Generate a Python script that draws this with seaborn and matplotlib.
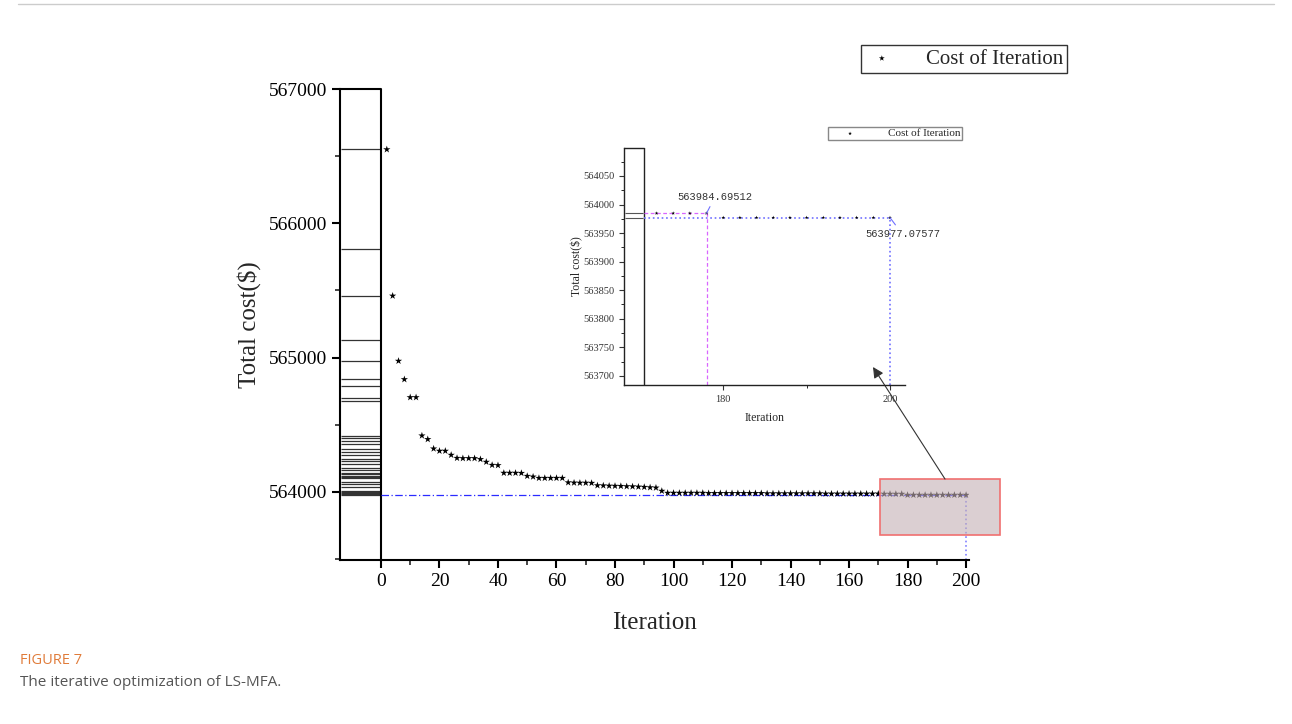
import numpy as np
import matplotlib
matplotlib.use('Agg')
import matplotlib.pyplot as plt
import seaborn as sns
from matplotlib.patches import Rectangle
from matplotlib.lines import Line2D
from matplotlib.ticker import MultipleLocator, FixedLocator

# Data
iterations = np.arange(2, 202, 2)
cost = [
    566550, 565460, 564975, 564838, 564704, 564704, 564419, 564392, 564322, 564305,   # 2-20
    564305, 564275, 564252, 564250, 564250, 564250, 564243, 564223, 564200, 564198,   # 22-40
    564141, 564141, 564141, 564140, 564118, 564113, 564103, 564103, 564103, 564103,   # 42-60
    564103, 564070, 564068, 564067, 564067, 564066, 564048, 564047, 564045, 564044,   # 62-80
    564043, 564041, 564040, 564038, 564036, 564033, 564031, 564007, 563992, 563992,   # 82-100
    563992, 563992, 563992, 563992, 563992, 563990, 563990, 563990, 563990, 563990,   # 102-120
    563990, 563990, 563990, 563990, 563990, 563988, 563988, 563988, 563988, 563988,   # 122-140
    563988, 563988, 563988, 563988, 563988, 563986, 563986, 563986, 563986, 563986,   # 142-160
    563986, 563986, 563986, 563986, 563986, 563984.69512, 563984.69512, 563984.69512,
    563984.69512, 563977.07577,                                                       # 162-180
    563977.07577, 563977.07577, 563977.07577, 563977.07577, 563977.07577,
    563977.07577, 563977.07577, 563977.07577, 563977.07577, 563977.07577,             # 182-200
]
# horizontal lines in the box left of x=0
rug_cost = [566550, 565810, 565460, 565129, 564975, 564838, 564791, 564701, 564679,
            564416, 564399, 564377, 564354, 564317, 564297, 564275, 564247, 564228,
            564206, 564180, 564161, 564139, 564130, 564121, 564112, 564104, 564074,
            564057, 564034, 564007, 563998, 563990, 563984.69512, 563977.07577]
best_mid = 563984.69512
best_final = 563977.07577
iter_mid = 178
iter_final = 200

sns.set_style('ticks')
plt.rcParams['font.family'] = ['Liberation Serif', 'DejaVu Serif']

W, H = 1292, 724
fig = plt.figure(figsize=(W / 100, H / 100), dpi=100)

# ---- main axes
ax = fig.add_axes([340 / W, 1 - 560 / H, (969 - 340) / W, (560 - 89) / H])
ymin, ymax = 563493, 567000
ax.set_xlim(-14, 201)
ax.set_ylim(ymin, ymax)

sns.scatterplot(x=iterations, y=cost, marker='*', s=30, color='black', edgecolor='none',
                label='Cost of Iteration', ax=ax, zorder=3)

ax.hlines(rug_cost, -13.6, -0.3, colors='#333333', lw=0.9)
ax.axvline(0, color='black', lw=1.5)
ax.plot([-14, 0], [ymax, ymax], color='black', lw=1.5, clip_on=False)

ax.hlines(best_final, 0, iter_final, colors='#2b2bff', linestyles=(0, (6, 2, 1, 2)), lw=0.9)
ax.vlines(iter_final, ymin, best_final, colors='#8080ff', linestyles=':', lw=1.2)

ax.add_patch(Rectangle((170.6, 563680), 41, 416, facecolor=(0.77, 0.69, 0.71, 0.6),
                       edgecolor='#f07070', lw=1.2, clip_on=False, zorder=4))

for s in ['top', 'right']:
    ax.spines[s].set_visible(False)
for s in ['left', 'bottom']:
    ax.spines[s].set_linewidth(1.5)
    ax.spines[s].set_color('black')

ax.set_yticks([564000, 565000, 566000, 567000])
ax.yaxis.set_minor_locator(FixedLocator([563500, 564500, 565500, 566500]))
ax.set_xticks(np.arange(0, 201, 20))
ax.xaxis.set_minor_locator(FixedLocator(np.arange(10, 200, 20)))
ax.tick_params(which='major', direction='out', length=6, width=1.5, labelsize=14,
               colors='black')
ax.tick_params(which='minor', direction='out', length=3.5, width=1.2)
ax.set_xlabel('Iteration', fontsize=18, labelpad=16)
ax.set_ylabel('Total cost($)', fontsize=18, labelpad=5)

ax.legend(loc='upper right', bbox_to_anchor=(1067 / W, 1 - 45 / H),
          bbox_transform=fig.transFigure, fancybox=False, edgecolor='#333333',
          framealpha=1, borderaxespad=0, borderpad=0.2, handletextpad=1.3,
          handlelength=1.6, markerscale=0.8, prop={'size': 15})

# ---- zoomed inset
axin = fig.add_axes([624 / W, 1 - 385 / H, (905 - 624) / W, (385 - 148) / H])
axin.set_facecolor('none')
iy0, iy1 = 563684, 564099
axin.set_xlim(168.1, 201.8)
axin.set_ylim(iy0, iy1)

mask = iterations >= 172
sns.scatterplot(x=iterations[mask], y=np.array(cost)[mask], marker='*', s=8,
                color='black', edgecolor='none', label='Cost of Iteration', ax=axin, zorder=3)

axin.hlines([best_mid, best_final], 168.2, 170.4, colors='#555555', lw=0.8)
axin.axvline(170.5, color='#222222', lw=1)
axin.plot([168.1, 170.5], [iy1, iy1], color='#222222', lw=1, clip_on=False)

axin.hlines(best_mid, 170.5, iter_mid, colors='#d966ff', linestyles=(0, (3, 2)), lw=0.9)
axin.vlines(iter_mid, iy0, best_mid, colors='#d966ff', linestyles=(0, (3, 2)), lw=0.9)
axin.hlines(best_final, 170.5, iter_final, colors='#6f6fff', linestyles=':', lw=1.2)
axin.vlines(iter_final, iy0, best_final, colors='#6f6fff', linestyles=':', lw=1.2)

axin.annotate('563984.69512', xy=(iter_mid, best_mid), xytext=(179, 564013),
              ha='center', va='center', fontsize=7.5, family='Liberation Mono', color='#333333',
              arrowprops=dict(arrowstyle='-', color='#6f6fff', lw=0.8, shrinkA=1, shrinkB=0))
axin.annotate('563977.07577', xy=(iter_final, best_final), xytext=(201.5, 563948),
              ha='center', va='center', fontsize=7.5, family='Liberation Mono', color='#333333',
              annotation_clip=False,
              arrowprops=dict(arrowstyle='-', color='#6f6fff', lw=0.8, shrinkA=1, shrinkB=0))

for s in ['top', 'right']:
    axin.spines[s].set_visible(False)
for s in ['left', 'bottom']:
    axin.spines[s].set_linewidth(1)
    axin.spines[s].set_color('#222222')

axin.yaxis.set_major_locator(FixedLocator(np.arange(563700, 564051, 50)))
axin.yaxis.set_minor_locator(MultipleLocator(25))
axin.set_xticks([180, 200])
axin.xaxis.set_minor_locator(FixedLocator([190]))
axin.tick_params(which='major', direction='out', length=3.5, width=0.8, labelsize=7.5,
                 colors='#333333')
axin.tick_params(which='minor', direction='out', length=2, width=0.7)
axin.set_xlabel('Iteration', fontsize=8.5, labelpad=6)
axin.set_ylabel('Total cost($)', fontsize=8.5, labelpad=0)

axin.legend(loc='upper right', bbox_to_anchor=(962 / W, 1 - 127 / H),
            bbox_transform=fig.transFigure, fancybox=False, edgecolor='#888888',
            framealpha=1, borderaxespad=0, borderpad=0.15, handletextpad=1.6,
            handlelength=3.6, prop={'size': 8})

# arrow from the highlighted box up to the inset
ax.annotate('', xy=(873 / W, 1 - 367 / H), xycoords='figure fraction',
            xytext=(192.8, 564096), textcoords='data',
            arrowprops=dict(arrowstyle='-|>', color='#333333', lw=0.8,
                            mutation_scale=16, shrinkA=0, shrinkB=0), zorder=10)

# ---- caption and frame line
fig.add_artist(Line2D([18 / W, 1274 / W], [1 - 4 / H, 1 - 4 / H], color='#cccccc', lw=1))
fig.text(20 / W, 1 - 660 / H, 'FIGURE 7', color='#e07b39', fontsize=10.5,
         family='Open Sans', va='center')
fig.text(20 / W, 1 - 683 / H, 'The iterative optimization of LS-MFA.', color='#555555',
         fontsize=11, family='Open Sans', va='center')

fig.savefig('out.png', dpi=100)
